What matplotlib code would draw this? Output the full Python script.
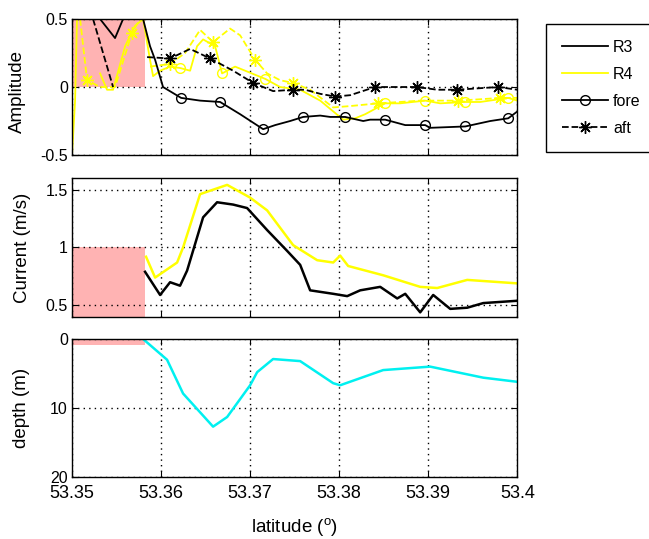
import matplotlib

matplotlib.use("Agg")

import matplotlib.pyplot as plt
import numpy as np
from matplotlib.lines import Line2D

plt.rcParams["font.family"] = ["Liberation Sans", "DejaVu Sans"]
plt.rcParams["font.size"] = 12

NAN = np.nan

# amplitude panel
r3_fore_lat = [53.35315, 53.35483, 53.35573, NAN, 53.35798, 53.35876, 53.35933, 53.36022,
               53.36225, 53.36438, 53.36663, 53.36888, 53.37146, 53.37281, 53.37449,
               53.37596, 53.37787, 53.37899, 53.38067, 53.3827, 53.38348, 53.38517,
               53.38742, 53.38966, 53.39022, 53.39416, 53.39697, 53.39899, 53.4]
r3_fore_amp = [0.5, 0.36, 0.5, NAN, 0.5, 0.3, 0.2, 0.0,
               -0.08, -0.1, -0.11, -0.2, -0.31, -0.28, -0.25,
               -0.22, -0.21, -0.22, -0.22, -0.25, -0.24, -0.24,
               -0.28, -0.28, -0.3, -0.29, -0.25, -0.23, -0.18]
r3_fore_marks = [8, 10, 12, 15, 18, 21, 23, 25, 27]

r3_aft_lat = [53.35236, 53.35461, NAN, 53.35843, 53.36101, 53.36326, 53.36551, 53.36809,
              53.37034, 53.37258, 53.37483, 53.37618, 53.37787, 53.37955, 53.38124,
              53.38404, 53.38876, 53.39101, 53.39326, 53.3955, 53.39787, 53.4]
r3_aft_amp = [0.5, 0.0, NAN, 0.22, 0.21, 0.28, 0.21, 0.12,
              0.03, -0.03, -0.02, -0.02, -0.05, -0.07, -0.06,
              0.0, 0.0, -0.02, -0.02, -0.01, 0.0, -0.02]
r3_aft_marks = [4, 6, 8, 10, 13, 15, 16, 18, 20]

r4_fore_lat = [53.35, 53.35034, 53.35056, NAN, 53.35315, 53.35393, 53.35461, 53.35596,
               53.35708, 53.35798, 53.35876, 53.3591, 53.35989, 53.36101, 53.36213,
               53.36326, 53.36404, 53.36472, 53.36607, 53.36685, 53.36831, 53.36944,
               53.37169, 53.37337, 53.37562, 53.37787, 53.38045, 53.3818, 53.38292,
               53.38517, 53.38685, 53.38966, 53.39135, 53.39416, 53.39584, 53.39899, 53.4]
r4_fore_amp = [-0.5, -0.1, 0.5, NAN, 0.1, -0.02, -0.02, 0.3,
               0.45, 0.5, 0.2, 0.08, 0.12, 0.15, 0.14,
               0.12, 0.3, 0.35, 0.3, 0.1, 0.15, 0.12,
               0.06, 0.0, -0.02, -0.1, -0.24, -0.23, -0.2,
               -0.12, -0.12, -0.1, -0.12, -0.11, -0.11, -0.08, -0.1]
r4_fore_marks = [14, 19, 22, 29, 31, 33, 35]

r4_aft_lat = [53.3509, 53.35169, 53.35315, 53.35483, 53.35674, 53.35764, NAN, 53.35876,
              53.36101, 53.3627, 53.36438, 53.36584, 53.36775, 53.36888, 53.37056,
              53.37191, 53.37337, 53.37483, 53.37674, 53.37933, 53.38124, 53.38438,
              53.38685, 53.3891, 53.39337, 53.39584, 53.39809, 53.4]
r4_aft_amp = [0.5, 0.05, 0.0, 0.0, 0.4, 0.5, NAN, 0.15,
              0.17, 0.25, 0.42, 0.33, 0.43, 0.38, 0.2,
              0.1, 0.05, 0.03, -0.02, -0.15, -0.14, -0.12,
              -0.11, -0.1, -0.1, -0.09, -0.08, -0.08]
r4_aft_marks = [1, 4, 8, 11, 14, 17, 21, 24, 26]

# current panel
cur_r3_lat = [53.3582, 53.35989, 53.36101, 53.36213, 53.36292, 53.36472, 53.36629,
              53.36809, 53.36966, 53.37191, 53.37416, 53.37562, 53.37674, 53.37933,
              53.3809, 53.38236, 53.38461, 53.38652, 53.38742, 53.3891, 53.39056,
              53.39247, 53.39438, 53.39618, 53.4]
cur_r3 = [0.79, 0.59, 0.70, 0.67, 0.80, 1.26, 1.39,
          1.37, 1.34, 1.15, 0.97, 0.85, 0.63, 0.60,
          0.58, 0.63, 0.66, 0.56, 0.60, 0.44, 0.59,
          0.47, 0.48, 0.52, 0.54]
cur_r4_lat = [53.35831, 53.35933, 53.3618, 53.36247, 53.36438, 53.36742, 53.37,
              53.37191, 53.37483, 53.37753, 53.37933, 53.38011, 53.38101, 53.38494,
              53.3891, 53.39101, 53.39438, 53.4]
cur_r4 = [0.92, 0.74, 0.87, 1.0, 1.46, 1.54, 1.43,
          1.32, 1.02, 0.89, 0.87, 0.93, 0.84, 0.76,
          0.66, 0.65, 0.72, 0.69]

# depth panel
depth_lat = [53.35798, 53.36067, 53.36247, 53.36584, 53.36742, 53.37, 53.37079,
             53.37258, 53.37562, 53.37933, 53.38011, 53.38494, 53.39022, 53.39618, 53.4]
depth = [0.0, 3.0, 7.9, 12.7, 11.3, 6.7, 4.8,
         2.9, 3.2, 6.4, 6.7, 4.5, 4.0, 5.6, 6.2]

pink_end = 53.3582
x_ticks = [53.35, 53.36, 53.37, 53.38, 53.39, 53.4]
x_tick_labels = ["53.35", "53.36", "53.37", "53.38", "53.39", "53.4"]

PINK = "#ffb3b3"
YELLOW = "#ffff00"
CYAN = "#00f0f0"
ASTERISK = (8, 2, 0)
LABEL_SIZE = 13.5
YTICK_SIZE = 11.5
XTICK_SIZE = 13


def style_axes(ax, yticks):
    ax.set_xlim(53.35, 53.4)
    ax.set_xticks(x_ticks)
    ax.set_yticks(yticks)
    ax.tick_params(direction="in", top=True, right=True, length=4)
    ax.tick_params(axis="y", labelsize=YTICK_SIZE, pad=3)
    ax.tick_params(axis="x", labelsize=XTICK_SIZE, pad=6)
    ax.grid(True, color="black", linestyle=(0, (1, 3)), linewidth=1.0)
    for spine in ax.spines.values():
        spine.set_linewidth(1.0)


fig = plt.figure(figsize=(6.49, 5.39), dpi=100)
ax1 = fig.add_axes([0.111, 0.7124, 0.686, 0.2523])
ax2 = fig.add_axes([0.111, 0.4119, 0.686, 0.258])
ax3 = fig.add_axes([0.111, 0.115, 0.686, 0.256])

# amplitude
ax1.fill_between([53.35, pink_end], 0.0, 0.5, color=PINK, linewidth=0, zorder=0)
ax1.plot(r4_aft_lat, r4_aft_amp, color=YELLOW, linestyle="--", linewidth=1.3,
         marker=ASTERISK, markevery=r4_aft_marks, markersize=9)
ax1.plot(r4_fore_lat, r4_fore_amp, color=YELLOW, linewidth=1.3,
         marker="o", markevery=r4_fore_marks, markersize=7, markerfacecolor="none")
ax1.plot(r3_aft_lat, r3_aft_amp, color="black", linestyle="--", linewidth=1.3,
         marker=ASTERISK, markevery=r3_aft_marks, markersize=9)
ax1.plot(r3_fore_lat, r3_fore_amp, color="black", linewidth=1.3,
         marker="o", markevery=r3_fore_marks, markersize=7, markerfacecolor="none")
ax1.set_ylim(-0.5, 0.5)
style_axes(ax1, [-0.5, 0, 0.5])
ax1.set_yticklabels(["-0.5", "0", "0.5"])
ax1.set_xticklabels([])
ax1.set_ylabel("Amplitude", fontsize=LABEL_SIZE)
ax1.yaxis.set_label_coords(-0.103, 0.47)

# current
ax2.fill_between([53.35, pink_end], 0.4, 1.0, color=PINK, linewidth=0, zorder=0)
ax2.plot(cur_r4_lat, cur_r4, color=YELLOW, linewidth=1.8)
ax2.plot(cur_r3_lat, cur_r3, color="black", linewidth=1.8)
ax2.set_ylim(0.4, 1.6)
style_axes(ax2, [0.5, 1, 1.5])
ax2.set_yticklabels(["0.5", "1", "1.5"])
ax2.set_xticklabels([])
ax2.set_ylabel("Current (m/s)", fontsize=LABEL_SIZE)
ax2.yaxis.set_label_coords(-0.092, 0.5)

# depth
ax3.fill_between([53.35, pink_end], 0.0, 0.8, color=PINK, linewidth=0, zorder=0)
ax3.plot(depth_lat, depth, color=CYAN, linewidth=1.8)
ax3.set_ylim(20, 0)
style_axes(ax3, [0, 10, 20])
ax3.set_xticklabels(x_tick_labels)
ax3.set_ylabel("depth (m)", fontsize=LABEL_SIZE)
ax3.yaxis.set_label_coords(-0.094, 0.5)
ax3.set_xlabel(r"latitude ($^\mathregular{o}$)", fontsize=LABEL_SIZE)
ax3.xaxis.set_label_coords(0.5, -0.285)

handles = [
    Line2D([], [], color="black", linewidth=1.3, label="R3"),
    Line2D([], [], color=YELLOW, linewidth=1.3, label="R4"),
    Line2D([], [], color="black", linewidth=1.3, marker="o", markersize=7,
           markerfacecolor="none", label="fore"),
    Line2D([], [], color="black", linewidth=1.3, linestyle="--", marker=ASTERISK,
           markersize=9, label="aft"),
]
leg = fig.legend(handles=handles, loc="upper left", bbox_to_anchor=(0.841, 0.9555),
                 fontsize=11.5, fancybox=False, edgecolor="black", framealpha=1,
                 handlelength=2.9, borderpad=1.0, labelspacing=0.75, handletextpad=0.3,
                 borderaxespad=0)
leg.get_frame().set_linewidth(1.0)

fig.savefig("out.png", dpi=100)
